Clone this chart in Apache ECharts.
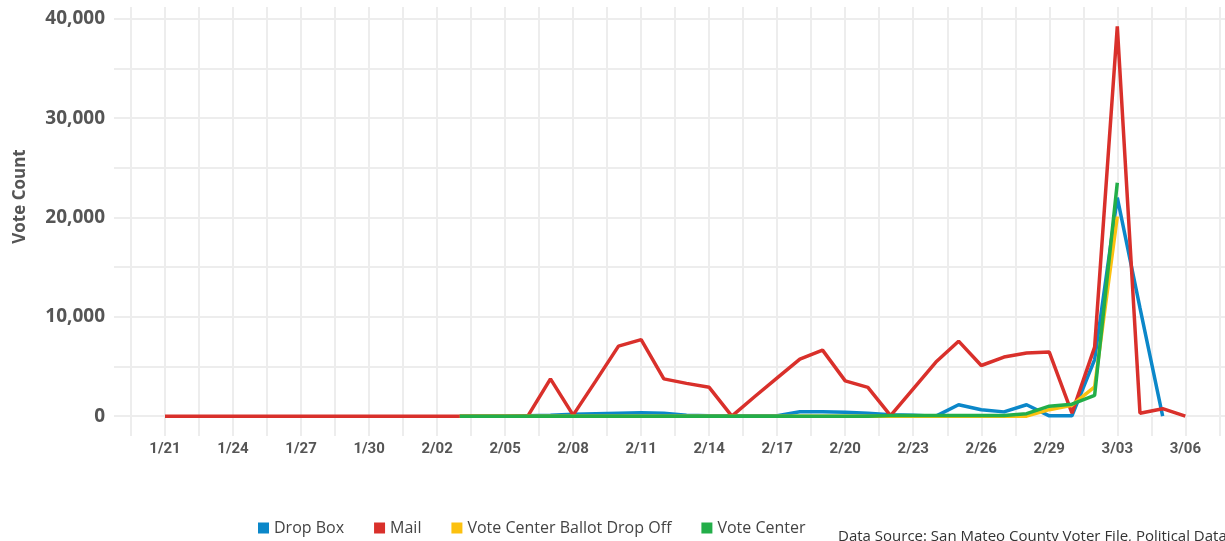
<!DOCTYPE html>
<html>
<head>
<meta charset="utf-8">
<title>Vote Count</title>
<script src="https://cdn.jsdelivr.net/npm/echarts@6/dist/echarts.min.js"></script>
<style>
  html, body { margin: 0; padding: 0; background: #fff; }
  #voteGraph { width: 1225px; height: 541px; }
</style>
</head>
<body>
<div id="voteGraph"></div>
<script>
    // one entry per day, 1/21 .. 3/06 (index = day number on the x axis)
    var days = ['1/21', '1/22', '1/23', '1/24', '1/25', '1/26', '1/27', '1/28', '1/29', '1/30', '1/31',
        '2/01', '2/02', '2/03', '2/04', '2/05', '2/06', '2/07', '2/08', '2/09', '2/10',
        '2/11', '2/12', '2/13', '2/14', '2/15', '2/16', '2/17', '2/18', '2/19', '2/20',
        '2/21', '2/22', '2/23', '2/24', '2/25', '2/26', '2/27', '2/28', '2/29',
        '3/01', '3/02', '3/03', '3/04', '3/05', '3/06'];

    var dropBox = [null, null, null, null, null, null, null, null, null, null, null, null, null,
        0, 0, 0, 50, 100, 200, 250, 300, 350, 300, 100, 50, 50, 50, 50, 450, 450, 400,
        300, 150, 100, 0, 1150, 650, 430, 1150, 30, 30, 5700, 22000, 10900, 0, null];

    var mail = [0, 0, 0, 0, 0, 0, 0, 0, 0, 0, 0, 0, 0, 0, 0, 0, 0,
        3750, 100, 3550, 7050, 7700, 3750, 3300, 2900, 0, 1950, 3850, 5750, 6650, 3550,
        2900, 50, 2750, 5450, 7550, 5100, 5950, 6350, 6450, 300, 6950, 39250, 300, 750, 0];

    var ballotDropOff = [null, null, null, null, null, null, null, null, null, null, null, null, null,
        0, 0, 0, 0, 0, 0, 0, 0, 0, 0, 0, 0, 0, 0, 0, 0, 0, 0, 0, 0, 0, 0, 0, 0, 0,
        0, 650, 1100, 2950, 20100, null, null, null];

    var voteCenter = [null, null, null, null, null, null, null, null, null, null, null, null, null,
        0, 0, 0, 0, 0, 0, 0, 0, 0, 0, 0, 0, 0, 0, 0, 0, 0, 0, 0,
        60, 60, 60, 60, 60, 60, 250, 1000, 1200, 2100, 23500, null, null, null];

    var yLabels = [0, 10000, 20000, 30000, 40000];

    function toPoints(arr) {
        var pts = [];
        arr.forEach(function (v, i) {
            if (v !== null) {
                pts.push([i, v]);
            }
        });
        return pts;
    }

    var gridLine = { color: '#ededed', width: 2 };

    var chart = echarts.init(document.getElementById('voteGraph'));
    chart.setOption({
        animation: false,
        color: ['#0b87c9', '#d9302b', '#fcc10f', '#23ae49'],
        title: {
            text: 'Data Source: San Mateo County Voter File, Political Data',
            left: 838,
            top: 529,
            padding: 0,
            textStyle: { fontFamily: 'Open Sans', fontSize: 15, fontWeight: 'normal', color: '#333' }
        },
        legend: {
            data: ['Drop Box', 'Mail', 'Vote Center Ballot Drop Off', 'Vote Center'],
            left: 258,
            top: 520,
            padding: 0,
            icon: 'rect',
            itemWidth: 11,
            itemHeight: 11,
            itemGap: 30,
            textStyle: { fontFamily: 'Open Sans', fontSize: 16, color: '#444' }
        },
        grid: {
            left: 114,
            right: 0,
            top: 7,
            bottom: 105
        },
        xAxis: {
            type: 'value',
            min: -2.25,
            max: 46.75,
            splitNumber: 16,
            axisLine: { show: false, onZero: false },
            axisTick: { show: false },
            minorTick: { show: false, splitNumber: 2 },
            axisLabel: {
                margin: 6,
                showMinLabel: false,
                showMaxLabel: false,
                color: '#555',
                fontFamily: 'Roboto',
                fontWeight: 'bold',
                fontSize: 15,
                formatter: function (v) {
                    return days[v] || '';
                }
            },
            splitLine: { show: true, showMinLine: false, showMaxLine: false, lineStyle: gridLine },
            minorSplitLine: { show: true, lineStyle: gridLine }
        },
        yAxis: {
            type: 'value',
            min: -2000,
            max: 41200,
            splitNumber: 9,
            name: 'Vote Count',
            nameLocation: 'middle',
            nameGap: 85,
            nameTextStyle: {
                fontFamily: 'Open Sans',
                fontWeight: 'bold',
                fontSize: 17,
                color: '#555',
                padding: [0, 0, 0, 50]
            },
            axisLine: { show: false, onZero: false },
            axisTick: { show: false },
            axisLabel: {
                margin: 9,
                showMinLabel: false,
                showMaxLabel: false,
                color: '#555',
                fontFamily: 'Open Sans',
                fontWeight: 'bold',
                fontSize: 19,
                formatter: function (v) {
                    return yLabels.indexOf(v) >= 0 ? echarts.format.addCommas(v) : '';
                }
            },
            splitLine: { show: true, showMinLine: false, showMaxLine: false, lineStyle: gridLine }
        },
        series: [
            { name: 'Drop Box', type: 'line', symbol: 'none', lineStyle: { width: 3.5 }, data: toPoints(dropBox) },
            { name: 'Mail', type: 'line', symbol: 'none', lineStyle: { width: 3.5 }, data: toPoints(mail) },
            { name: 'Vote Center Ballot Drop Off', type: 'line', symbol: 'none', lineStyle: { width: 3.5 }, data: toPoints(ballotDropOff) },
            { name: 'Vote Center', type: 'line', symbol: 'none', lineStyle: { width: 3.5 }, data: toPoints(voteCenter) }
        ]
    });
</script>
</body>
</html>
